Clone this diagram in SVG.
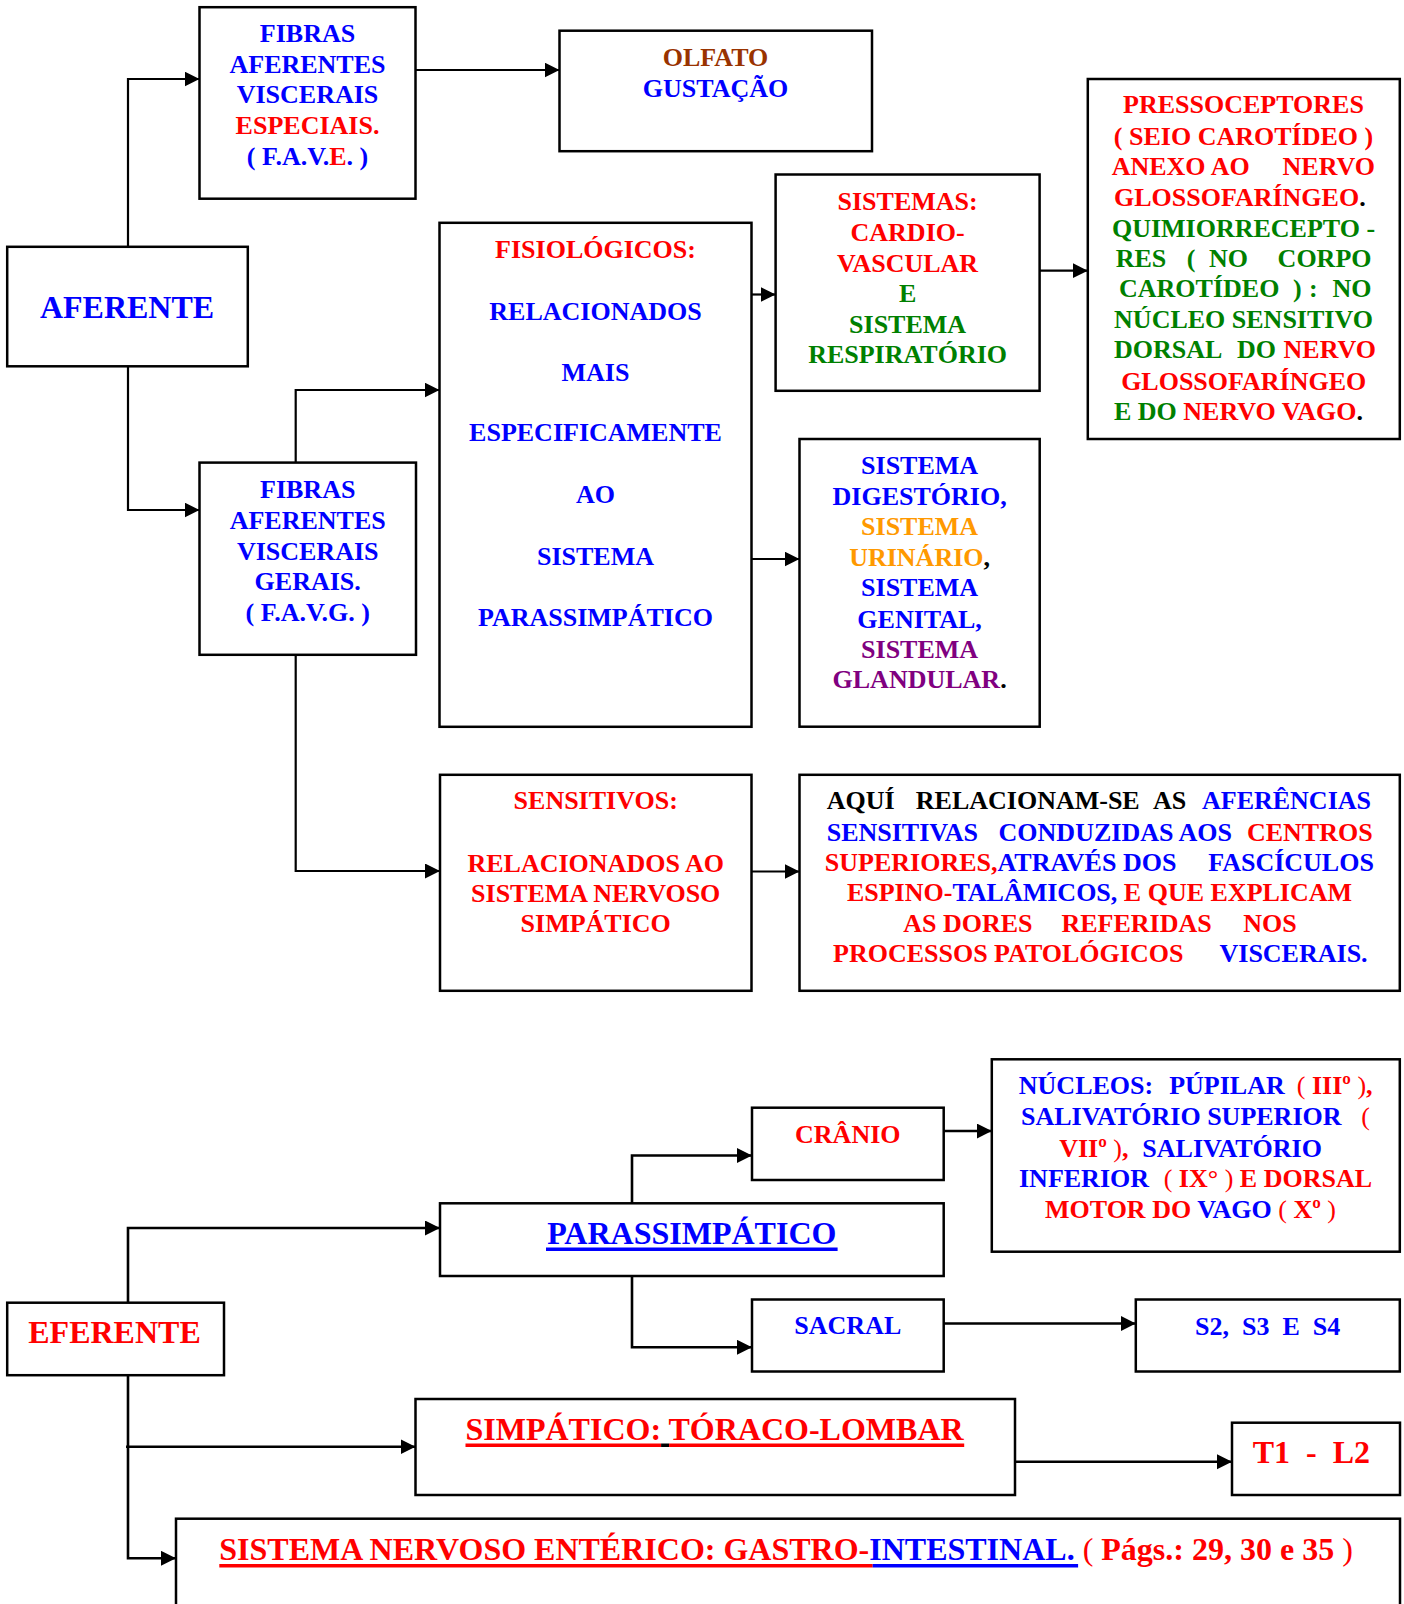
<svg xmlns="http://www.w3.org/2000/svg" width="1404" height="1604" viewBox="0 0 1404 1604">
  <defs>
    <marker id="arrow" markerUnits="userSpaceOnUse" markerWidth="16" markerHeight="16" refX="15" refY="7.5" orient="auto">
      <path d="M0,0 L15,7.5 L0,15 Z" fill="#000"/>
    </marker>
  </defs>
  <style>
    .box { fill: #fff; stroke: #000; stroke-width: 2.5; }
    .conn { fill: none; stroke: #000; stroke-width: 2.2; }
    .conn2 { fill: none; stroke: #000; stroke-width: 2.6; }
    .t { font-family: "Liberation Serif", "Times New Roman", serif; font-weight: bold; font-size: 26px; }
    .big { font-size: 32px; }
    .c { text-anchor: middle; }
    .e { text-anchor: end; }
    .n { font-weight: normal; }
    .b { fill: #0000FF; }
    .r { fill: #FF0000; }
    .g { fill: #008000; }
    .k { fill: #000000; }
    .br { fill: #993300; }
    .o { fill: #FF9900; }
    .p { fill: #800080; }
  </style>

  <rect width="1404" height="1604" fill="#fff"/>

  <!-- connectors -->
  <g id="connectors">
    <polyline class="conn" points="128,246.8 128,79 199.5,79" marker-end="url(#arrow)"/>
    <polyline class="conn" points="128,366.3 128,510 199.5,510" marker-end="url(#arrow)"/>
    <line class="conn" x1="415.5" y1="70" x2="559.5" y2="70" marker-end="url(#arrow)"/>
    <polyline class="conn" points="295.7,462.6 295.7,390 439.5,390" marker-end="url(#arrow)"/>
    <polyline class="conn" points="295.7,654.8 295.7,871 440,871" marker-end="url(#arrow)"/>
    <line class="conn" x1="751.5" y1="294.5" x2="775.6" y2="294.5" marker-end="url(#arrow)"/>
    <line class="conn" x1="751.5" y1="559" x2="799.5" y2="559" marker-end="url(#arrow)"/>
    <line class="conn" x1="1039.7" y1="270.7" x2="1087.8" y2="270.7" marker-end="url(#arrow)"/>
    <line class="conn" x1="751.5" y1="871.5" x2="799.5" y2="871.5" marker-end="url(#arrow)"/>

    <polyline class="conn2" points="128,1302.7 128,1228 440,1228" marker-end="url(#arrow)"/>
    <polyline class="conn2" points="632,1203.3 632,1155.5 752,1155.5" marker-end="url(#arrow)"/>
    <polyline class="conn2" points="632,1276 632,1347.3 752,1347.3" marker-end="url(#arrow)"/>
    <line class="conn2" x1="943.7" y1="1131" x2="991.8" y2="1131" marker-end="url(#arrow)"/>
    <line class="conn2" x1="943.7" y1="1323.5" x2="1135.8" y2="1323.5" marker-end="url(#arrow)"/>
    <polyline class="conn2" points="128,1375.2 128,1558.3 176,1558.3" marker-end="url(#arrow)"/>
    <line class="conn2" x1="126" y1="1446.7" x2="415.5" y2="1446.7" marker-end="url(#arrow)"/>
    <line class="conn2" x1="1015" y1="1461.7" x2="1232" y2="1461.7" marker-end="url(#arrow)"/>
  </g>

  <!-- afferent branch -->
  <g id="aferente">
    <rect class="box" x="7.2" y="246.8" width="240.6" height="119.5"/>
    <text class="t big c b" x="127" y="318">AFERENTE</text>
  </g>

  <g id="fave">
    <rect class="box" x="199.5" y="7.2" width="216" height="191.5"/>
    <text class="t c b" x="307.5" y="42">FIBRAS</text>
    <text class="t c b" x="307.5" y="72.5">AFERENTES</text>
    <text class="t c b" x="307.5" y="103">VISCERAIS</text>
    <text class="t c r" x="307.5" y="134">ESPECIAIS.</text>
    <text class="t c b" x="307.5" y="165">( F.A.V.<tspan class="r">E</tspan>. )</text>
  </g>

  <g id="olfato">
    <rect class="box" x="559.5" y="30.7" width="312.5" height="120.5"/>
    <text class="t c br" x="715.5" y="65.7">OLFATO</text>
    <text class="t c b" x="715.5" y="96.7">GUSTAÇÃO</text>
  </g>

  <g id="favg">
    <rect class="box" x="199.5" y="462.6" width="216.5" height="192.2"/>
    <text class="t c b" x="307.7" y="498">FIBRAS</text>
    <text class="t c b" x="307.7" y="529">AFERENTES</text>
    <text class="t c b" x="307.7" y="560">VISCERAIS</text>
    <text class="t c b" x="307.7" y="590">GERAIS.</text>
    <text class="t c b" x="307.7" y="621">( F.A.V.G. )</text>
  </g>

  <g id="fisiologicos">
    <rect class="box" x="439.5" y="222.8" width="312" height="504"/>
    <text class="t c r" x="595.5" y="258">FISIOLÓGICOS:</text>
    <text class="t c b" x="595.5" y="320">RELACIONADOS</text>
    <text class="t c b" x="595.5" y="380.5">MAIS</text>
    <text class="t c b" x="595.5" y="441">ESPECIFICAMENTE</text>
    <text class="t c b" x="595.5" y="503">AO</text>
    <text class="t c b" x="595.5" y="564.5">SISTEMA</text>
    <text class="t c b" x="595.5" y="626">PARASSIMPÁTICO</text>
  </g>

  <g id="sistemas">
    <rect class="box" x="775.6" y="174.5" width="264" height="216.3"/>
    <text class="t c r" x="907.6" y="210">SISTEMAS:</text>
    <text class="t c r" x="907.6" y="240.7">CARDIO-</text>
    <text class="t c r" x="907.6" y="271.5">VASCULAR</text>
    <text class="t c g" x="907.6" y="301.7">E</text>
    <text class="t c g" x="907.6" y="332.7">SISTEMA</text>
    <text class="t c g" x="907.6" y="363.3">RESPIRATÓRIO</text>
  </g>

  <g id="receptores">
    <rect class="box" x="1087.8" y="79" width="312" height="360"/>
    <text class="t c r" x="1243.5" y="113.3">PRESSOCEPTORES</text>
    <text class="t c r" x="1243.5" y="145">( SEIO CAROTÍDEO )</text>
    <text class="t r" x="1111.7" y="175">ANEXO AO</text>
    <text class="t e r" x="1375" y="175">NERVO</text>
    <text class="t r" x="1114" y="205.7">GLOSSOFARÍNGEO<tspan class="k">.</tspan></text>
    <text class="t c g" x="1243.5" y="236.7">QUIMIORRECEPTO -</text>
    <text class="t g" x="1115.7" y="266.7">RES</text>
    <text class="t g" x="1186.7" y="266.7">(</text>
    <text class="t g" x="1209" y="266.7">NO</text>
    <text class="t e g" x="1371.5" y="266.7">CORPO</text>
    <text class="t g" x="1119" y="297.3">CAROTÍDEO</text>
    <text class="t g" x="1293" y="297.3">)</text>
    <text class="t g" x="1309" y="297.3">:</text>
    <text class="t e g" x="1371.5" y="297.3">NO</text>
    <text class="t c g" x="1243.5" y="328.3">NÚCLEO SENSITIVO</text>
    <text class="t g" x="1114" y="358.3">DORSAL</text>
    <text class="t g" x="1237" y="358.3">DO</text>
    <text class="t e r" x="1376" y="358.3">NERVO</text>
    <text class="t c r" x="1243.7" y="390">GLOSSOFARÍNGEO</text>
    <text class="t g" x="1114" y="420">E DO <tspan class="r">NERVO VAGO</tspan><tspan class="k">.</tspan></text>
  </g>

  <g id="sistemas-viscerais">
    <rect class="box" x="799.5" y="439" width="240.2" height="287.7"/>
    <text class="t c b" x="919.6" y="473.7">SISTEMA</text>
    <text class="t c b" x="919.6" y="504.8">DIGESTÓRIO,</text>
    <text class="t c o" x="919.6" y="535.2">SISTEMA</text>
    <text class="t c o" x="919.6" y="565.6">URINÁRIO<tspan class="k">,</tspan></text>
    <text class="t c b" x="919.6" y="596">SISTEMA</text>
    <text class="t c b" x="919.6" y="627.5">GENITAL,</text>
    <text class="t c p" x="919.6" y="657.9">SISTEMA</text>
    <text class="t c p" x="919.6" y="688.4">GLANDULAR<tspan class="k">.</tspan></text>
  </g>

  <g id="sensitivos">
    <rect class="box" x="440" y="774.8" width="311.5" height="216"/>
    <text class="t c r" x="595.7" y="809.3">SENSITIVOS:</text>
    <text class="t c r" x="595.7" y="871.7">RELACIONADOS AO</text>
    <text class="t c r" x="595.7" y="901.7">SISTEMA NERVOSO</text>
    <text class="t c r" x="595.7" y="931.7">SIMPÁTICO</text>
  </g>

  <g id="aferencias">
    <rect class="box" x="799.5" y="774.8" width="600.3" height="216"/>
    <text class="t k" x="826.7" y="809.3">AQUÍ</text>
    <text class="t k" x="915.8" y="809.3">RELACIONAM-SE</text>
    <text class="t k" x="1153" y="809.3">AS</text>
    <text class="t e b" x="1371" y="809.3">AFERÊNCIAS</text>
    <text class="t b" x="826.7" y="841">SENSITIVAS</text>
    <text class="t b" x="998.6" y="841">CONDUZIDAS AOS</text>
    <text class="t e r" x="1372.6" y="841">CENTROS</text>
    <text class="t r" x="824.8" y="871">SUPERIORES,<tspan class="b">ATRAVÉS DOS</tspan></text>
    <text class="t e b" x="1373.9" y="871">FASCÍCULOS</text>
    <text class="t c r" x="1099.5" y="900.7">ESPINO-<tspan class="b">TALÂMICOS,</tspan> E QUE EXPLICAM</text>
    <text class="t r" x="903.2" y="931.7">AS DORES</text>
    <text class="t r" x="1061.4" y="931.7">REFERIDAS</text>
    <text class="t e r" x="1296.7" y="931.7">NOS</text>
    <text class="t r" x="833" y="961.7">PROCESSOS PATOLÓGICOS</text>
    <text class="t e b" x="1367.6" y="961.7">VISCERAIS.</text>
  </g>

  <!-- efferent branch -->
  <g id="eferente">
    <rect class="box" x="7.2" y="1302.7" width="216.8" height="72.5"/>
    <text class="t big c r" x="114.5" y="1343.3">EFERENTE</text>
  </g>

  <g id="parassimpatico">
    <rect class="box" x="440" y="1203.3" width="503.7" height="72.7"/>
    <text class="t big c b" x="691.8" y="1244">PARASSIMPÁTICO</text>
    <rect x="546" y="1247.5" width="291.6" height="3.5" fill="#0000FF"/>
  </g>

  <g id="cranio">
    <rect class="box" x="752" y="1107.7" width="191.7" height="72.3"/>
    <text class="t c r" x="847.8" y="1142.7">CRÂNIO</text>
  </g>

  <g id="nucleos">
    <rect class="box" x="991.8" y="1059.3" width="408" height="192.4"/>
    <text class="t b" x="1018.8" y="1094.3">NÚCLEOS:</text>
    <text class="t b" x="1169.2" y="1094.3">PÚPILAR</text>
    <text class="t e r" x="1372.6" y="1094.3"><tspan class="n">(</tspan> IIIº <tspan class="n">)</tspan>,</text>
    <text class="t b" x="1021" y="1125">SALIVATÓRIO SUPERIOR</text>
    <text class="t e r n" x="1370" y="1125">(</text>
    <text class="t r" x="1059.2" y="1156.7">VIIº <tspan class="n">)</tspan>,</text>
    <text class="t b" x="1142.3" y="1156.7">SALIVATÓRIO</text>
    <text class="t b" x="1019" y="1186.7">INFERIOR</text>
    <text class="t e r" x="1372" y="1186.7"><tspan class="n">(</tspan> IX° <tspan class="n">)</tspan> E DORSAL</text>
    <text class="t r" x="1045" y="1217.7">MOTOR DO <tspan class="b">VAGO</tspan> <tspan class="n">(</tspan> Xº <tspan class="n">)</tspan></text>
  </g>

  <g id="sacral">
    <rect class="box" x="752" y="1299.5" width="191.7" height="72"/>
    <text class="t c b" x="847.8" y="1334.3">SACRAL</text>
  </g>

  <g id="segmentos-sacrais">
    <rect class="box" x="1135.8" y="1299.5" width="264" height="72"/>
    <text class="t c b" x="1267.6" y="1335" xml:space="preserve">S2,  S3  E  S4</text>
  </g>

  <g id="simpatico">
    <rect class="box" x="415.5" y="1399" width="599.5" height="96"/>
    <text class="t big r" x="465.5" y="1440">SIMPÁTICO: TÓRACO-LOMBAR</text>
    <rect x="465.5" y="1443.5" width="195.6" height="3.5" fill="#FF0000"/>
    <rect x="661.1" y="1443.5" width="8" height="3.5" fill="#000"/>
    <rect x="669.1" y="1443.5" width="295.1" height="3.5" fill="#FF0000"/>
  </g>

  <g id="segmentos-toracolombares">
    <rect class="box" x="1232" y="1422.7" width="168" height="72.3"/>
    <text class="t big c r" x="1311.3" y="1463.3" xml:space="preserve">T1  -  L2</text>
  </g>

  <g id="enterico">
    <rect class="box" x="176" y="1518.7" width="1224" height="120"/>
    <text class="t big r" x="219.3" y="1560">SISTEMA NERVOSO ENTÉRICO: GASTRO-<tspan class="b">INTESTINAL.</tspan> <tspan class="n">(</tspan> Págs.: 29, 30 e 35 <tspan class="n">)</tspan></text>
    <rect x="219.3" y="1564" width="653.4" height="3.5" fill="#FF0000"/>
    <rect x="872.7" y="1564" width="205.4" height="3.5" fill="#0000FF"/>
  </g>
</svg>
